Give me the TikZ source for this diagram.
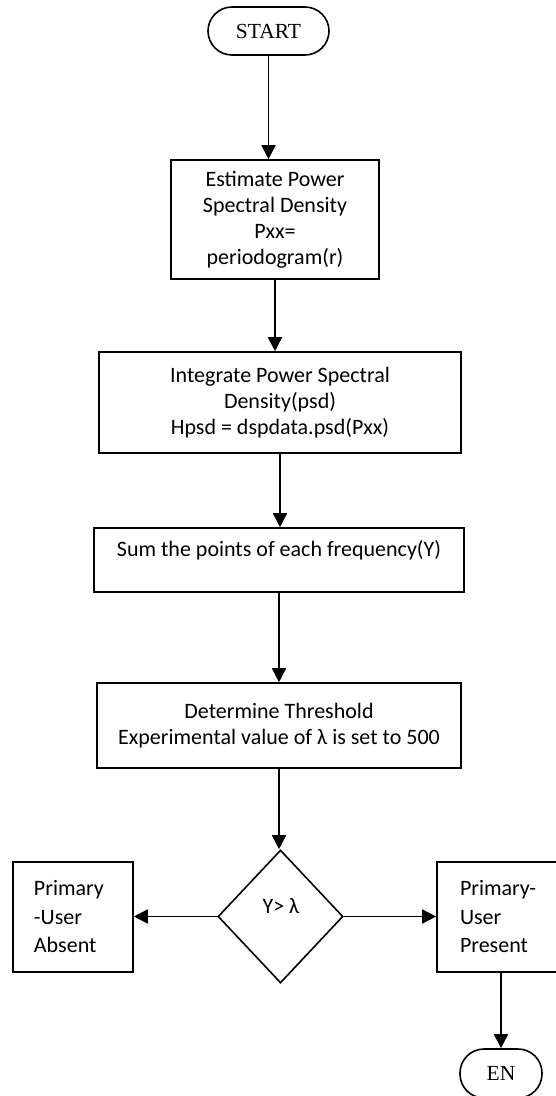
\documentclass[tikz,border=0pt]{standalone}
\usepackage{fontspec}
\setmainfont{Carlito}
\newfontfamily\timesfont{Liberation Serif}
\usetikzlibrary{arrows.meta,shapes.geometric}

\begin{document}
\begin{tikzpicture}[x=1pt,y=1pt,yscale=-1,
  box/.style={draw,line width=1.6pt,rectangle,inner sep=0pt,align=center,font=\fontsize{22}{26}\selectfont},
  sidebox/.style={draw,line width=1.6pt,rectangle,inner ysep=0pt,align=left,minimum height=110pt,font=\fontsize{22}{28.5}\selectfont},
  term/.style={draw,line width=1.6pt,rectangle,rounded corners=24pt,minimum height=48pt,font=\timesfont\fontsize{21.5}{24}\selectfont},
  arr/.style={line width=1.6pt,-{Triangle[length=14pt,width=14pt]}}]
\useasboundingbox (0,0) rectangle (556,1096);
\clip (0,0) rectangle (556,1096);

%Shape: Terminator
\node[term,minimum width=121pt] (start) at (268.5,31) {START};
%Shape: Rectangle
\node[box,minimum width=208pt,minimum height=119pt] (est) at (275,219.5) {Estimate Power\\Spectral Density\\Pxx=\\periodogram(r)};
%Shape: Rectangle
\node[box,minimum width=362pt,minimum height=101pt] (integ) at (280,402.5) {Integrate Power Spectral\\Density(psd)\\Hpsd = dspdata.psd(Pxx)};
%Shape: Rectangle
\node[box,minimum width=370pt,minimum height=64pt,text depth=24pt] (sum) at (279,560) {Sum the points of each frequency(Y)};
%Shape: Rectangle
\node[box,minimum width=364pt,minimum height=85pt] (thresh) at (279,725.5) {Determine Threshold\\Experimental value of λ is set to 500};
%Shape: Diamond
\node[draw,line width=1.6pt,diamond,inner sep=0pt,minimum width=125pt,minimum height=133pt] (dec) at (280.5,916.5) {};
% Text Node
\node[font=\fontsize{22}{26}\selectfont] (cond) at (281,906) {Y> λ};
%Shape: Rectangle
\node[sidebox,text width=78pt,inner xsep=21pt] (absent) at (73,917) {Primary\\-User\\Absent};
%Shape: Rectangle
\node[sidebox,text width=80pt,inner xsep=23pt] (present) at (500,917) {Primary-\\User\\Present};
%Shape: Terminator
\node[term,minimum width=82pt,minimum height=49pt] (en) at (501,1073.5) {EN};

%Straight Lines
\draw[arr] (start.south) -- (start.south |- est.north);
\draw[arr] (est.south) -- (est.south |- integ.north);
\draw[arr] (integ.south) -- (integ.south |- sum.north);
\draw[arr] (sum.south) -- (sum.south |- thresh.north);
\draw[arr] (thresh.south) -- (thresh.south |- dec.north);
%Straight Lines
\draw[arr] (dec.west) -- (dec.west -| absent.east);
\draw[arr] (dec.east) -- (dec.east -| present.west);
\draw[arr] (en.north |- present.south) -- (en.north);

\end{tikzpicture}
\end{document}
